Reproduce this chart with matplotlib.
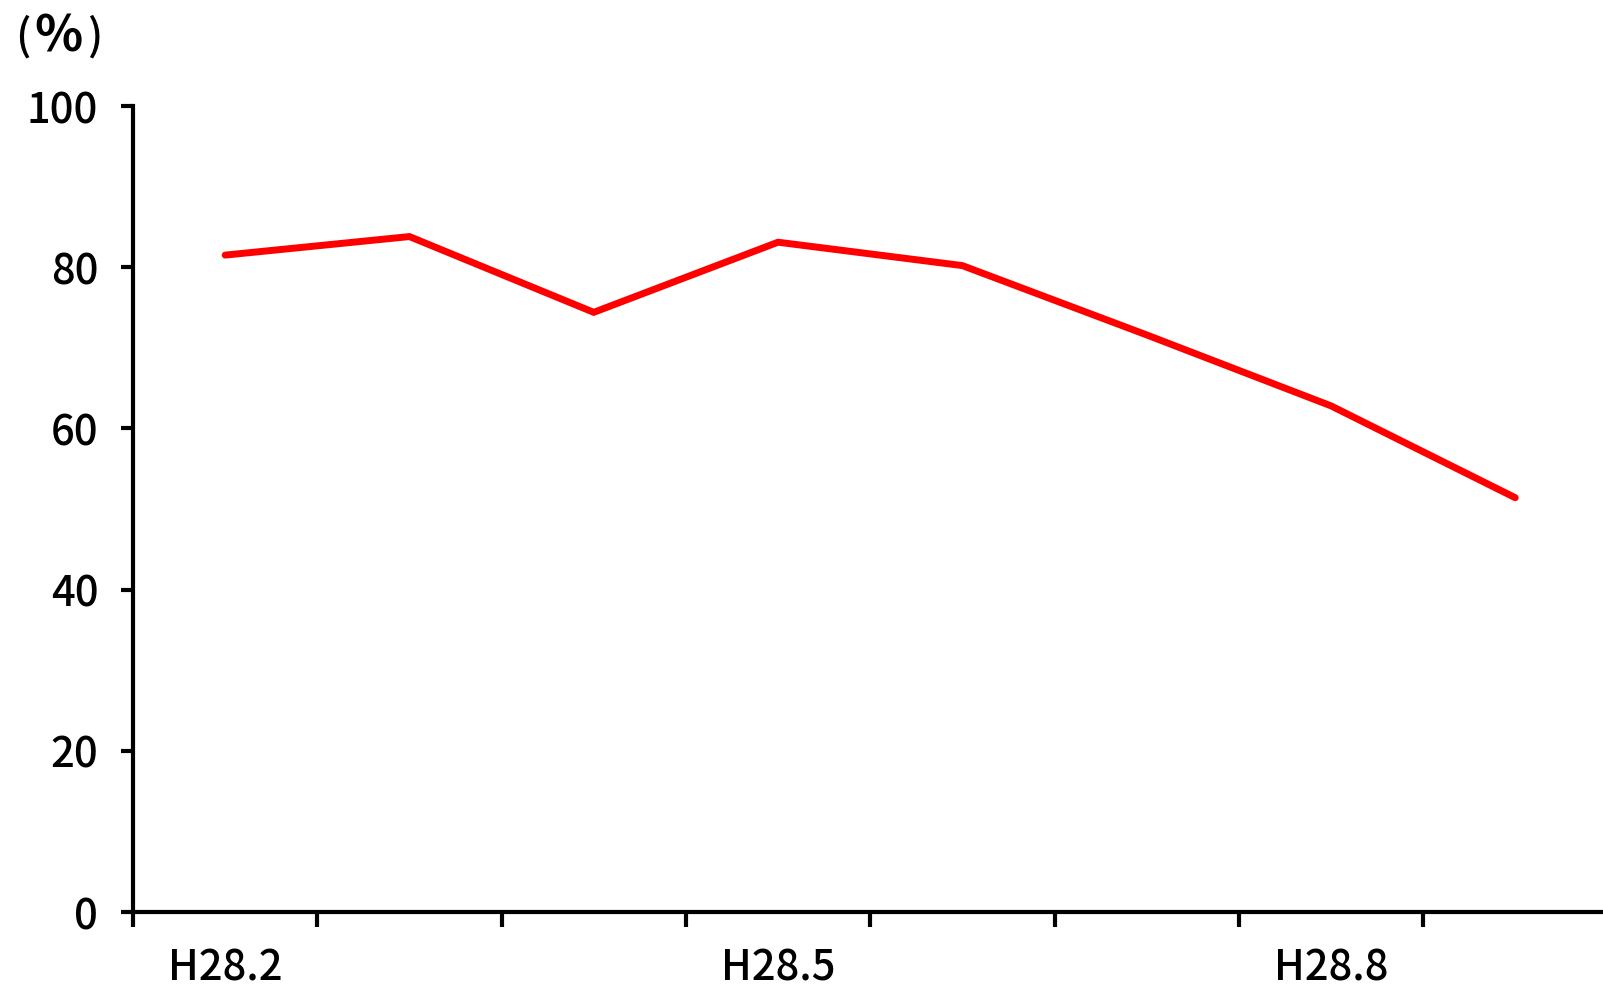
import matplotlib
matplotlib.use("Agg")
import matplotlib.pyplot as plt

plt.rcParams['font.family'] = ['Noto Sans CJK JP', 'DejaVu Sans']

# データ
months = ['H28.2', 'H28.3', 'H28.4', 'H28.5', 'H28.6', 'H28.7', 'H28.8', 'H28.9']
ratio = [81.5, 83.8, 74.4, 83.1, 80.2, 71.6, 62.8, 51.4]
shown_labels = ['H28.2', 'H28.5', 'H28.8']

fig = plt.figure(figsize=(16.03, 9.90), dpi=100)
ax = fig.add_axes([133 / 1603, 1 - 912 / 990, 1 - 133 / 1603, (912 - 106) / 990])

x = list(range(len(months)))
ax.plot(x, ratio, color='#FF0000', linewidth=5, solid_capstyle='round', solid_joinstyle='miter')

ax.set_ylim(0, 100)
ax.set_yticks([0, 20, 40, 60, 80, 100])
ax.set_xlim(-0.5, (1603 - 133) / 184.3 - 0.5)

# 区切り目盛りとラベル
ax.set_xticks([i - 0.5 for i in range(len(months))])
ax.set_xticklabels([])
ax.set_xticks([months.index(m) for m in shown_labels], minor=True)
ax.set_xticklabels(shown_labels, minor=True)

for s in ['top', 'right']:
    ax.spines[s].set_visible(False)
for s in ['left', 'bottom']:
    ax.spines[s].set_linewidth(3)
    ax.spines[s].set_color('black')

ax.tick_params(axis='y', direction='out', length=9, width=3, pad=16, labelsize=30)
ax.tick_params(axis='x', which='major', direction='out', length=11, width=3)
ax.tick_params(axis='x', which='minor', length=0, pad=25, labelsize=30)
for lbl in ax.get_yticklabels() + ax.get_xticklabels(minor=True):
    lbl.set_fontweight('medium')

# 単位ラベル (%)
yu = 1 - 37 / 990
fig.text(15 / 1603, yu, '(', fontsize=31, fontweight='medium', va='center', ha='left')
fig.text(58 / 1603, yu, '%', fontsize=36, fontweight='bold', va='center', ha='center')
fig.text(102 / 1603, yu, ')', fontsize=31, fontweight='medium', va='center', ha='right')

fig.savefig('out.png', dpi=100)
